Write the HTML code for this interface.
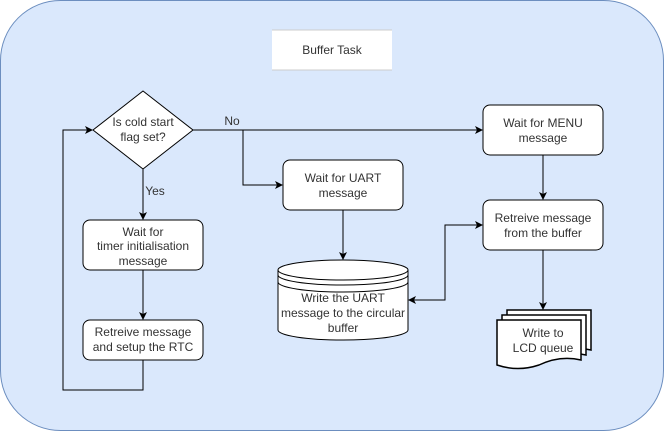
<!DOCTYPE html>
<html><head><style>body{margin:0;background:#fff}svg{display:block}text{font-family:"Liberation Sans",sans-serif;font-size:12px;fill:#333}</style></head><body>
<svg width="664" height="431" viewBox="0 0 664 431">
<defs><marker id="a" markerWidth="8" markerHeight="8" refX="7" refY="4" orient="auto-start-reverse" markerUnits="userSpaceOnUse"><path d="M0,0 L8,4 L0,8 L2,4Z" fill="#000"/></marker></defs>
<rect x="0.5" y="0.5" width="663" height="430" rx="60" fill="#dae8fc" stroke="#6c8ebf"/>
<rect x="272" y="30" width="120" height="40" fill="#fff"/>
<line x1="272" y1="30" x2="392" y2="30" stroke="#ccc"/><line x1="272" y1="70" x2="392" y2="70" stroke="#ccc"/>
<text x="332" y="54" text-anchor="middle">Buffer Task</text>
<g fill="none" stroke="#000" stroke-width="1">
<path d="M143,169 V219" marker-end="url(#a)"/>
<path d="M143,270 V319" marker-end="url(#a)"/>
<path d="M143,360 V390 H63 V130 H92" marker-end="url(#a)"/>
<path d="M193,130 H482" marker-end="url(#a)"/>
<path d="M243,130 V185 H282" marker-end="url(#a)"/>
<path d="M343,210 V259" marker-end="url(#a)"/>
<path d="M543,155 V199" marker-end="url(#a)"/>
<path d="M543,250 V309" marker-end="url(#a)"/>
<path d="M482,225 H445 V300 H409" marker-start="url(#a)" marker-end="url(#a)"/>
</g>
<g fill="#fff" stroke="#000">
<path d="M143,91 L193,130 L143,169 L93,130Z"/>
<rect x="83" y="220" width="120" height="50" rx="7"/>
<rect x="83" y="320" width="120" height="40" rx="7"/>
<rect x="283" y="160" width="120" height="50" rx="7"/>
<rect x="483" y="105" width="120" height="50" rx="7"/>
<rect x="483" y="200" width="120" height="50" rx="7"/>
<path d="M278,270 A65,10 0 0 1 408,270 V330 A65,10 0 0 1 278,330Z"/>
<path d="M278,275 A65,10 0 0 0 408,275 M278,282 A65,10 0 0 0 408,282 M278,270 A65,10 0 0 0 408,270" fill="none"/>
<path d="M507,310 H591 V350 Q570,345 549,355 Q528,362 507,355Z" stroke-width="1.5"/>
<path d="M502,315 H586 V355 Q565,350 544,360 Q523,367 502,360Z" stroke-width="1.5"/>
<path d="M497,320 H581 V360 Q560,355 539,365 Q518,372 497,365Z" stroke-width="1.5"/>
</g>
<text x="143" y="126" text-anchor="middle">Is cold start</text>
<text x="143" y="141" text-anchor="middle">flag set?</text>
<text x="155" y="195" text-anchor="middle" font-size="11">Yes</text>
<text x="232" y="125" text-anchor="middle" font-size="11">No</text>
<text x="143" y="236" text-anchor="middle">Wait for</text>
<text x="143" y="250" text-anchor="middle">timer initialisation</text>
<text x="143" y="265" text-anchor="middle">message</text>
<text x="143" y="336" text-anchor="middle">Retreive message</text>
<text x="143" y="351" text-anchor="middle">and setup the RTC</text>
<text x="343" y="182" text-anchor="middle">Wait for UART</text>
<text x="343" y="197" text-anchor="middle">message</text>
<text x="543" y="127" text-anchor="middle">Wait for MENU</text>
<text x="543" y="142" text-anchor="middle">message</text>
<text x="543" y="222" text-anchor="middle">Retreive message</text>
<text x="543" y="237" text-anchor="middle">from the buffer</text>
<text x="343" y="302" text-anchor="middle">Write the UART</text>
<text x="343" y="317" text-anchor="middle">message to the circular</text>
<text x="343" y="332" text-anchor="middle">buffer</text>
<text x="543" y="337" text-anchor="middle">Write to</text>
<text x="543" y="352" text-anchor="middle">LCD queue</text>
</svg></body></html>
